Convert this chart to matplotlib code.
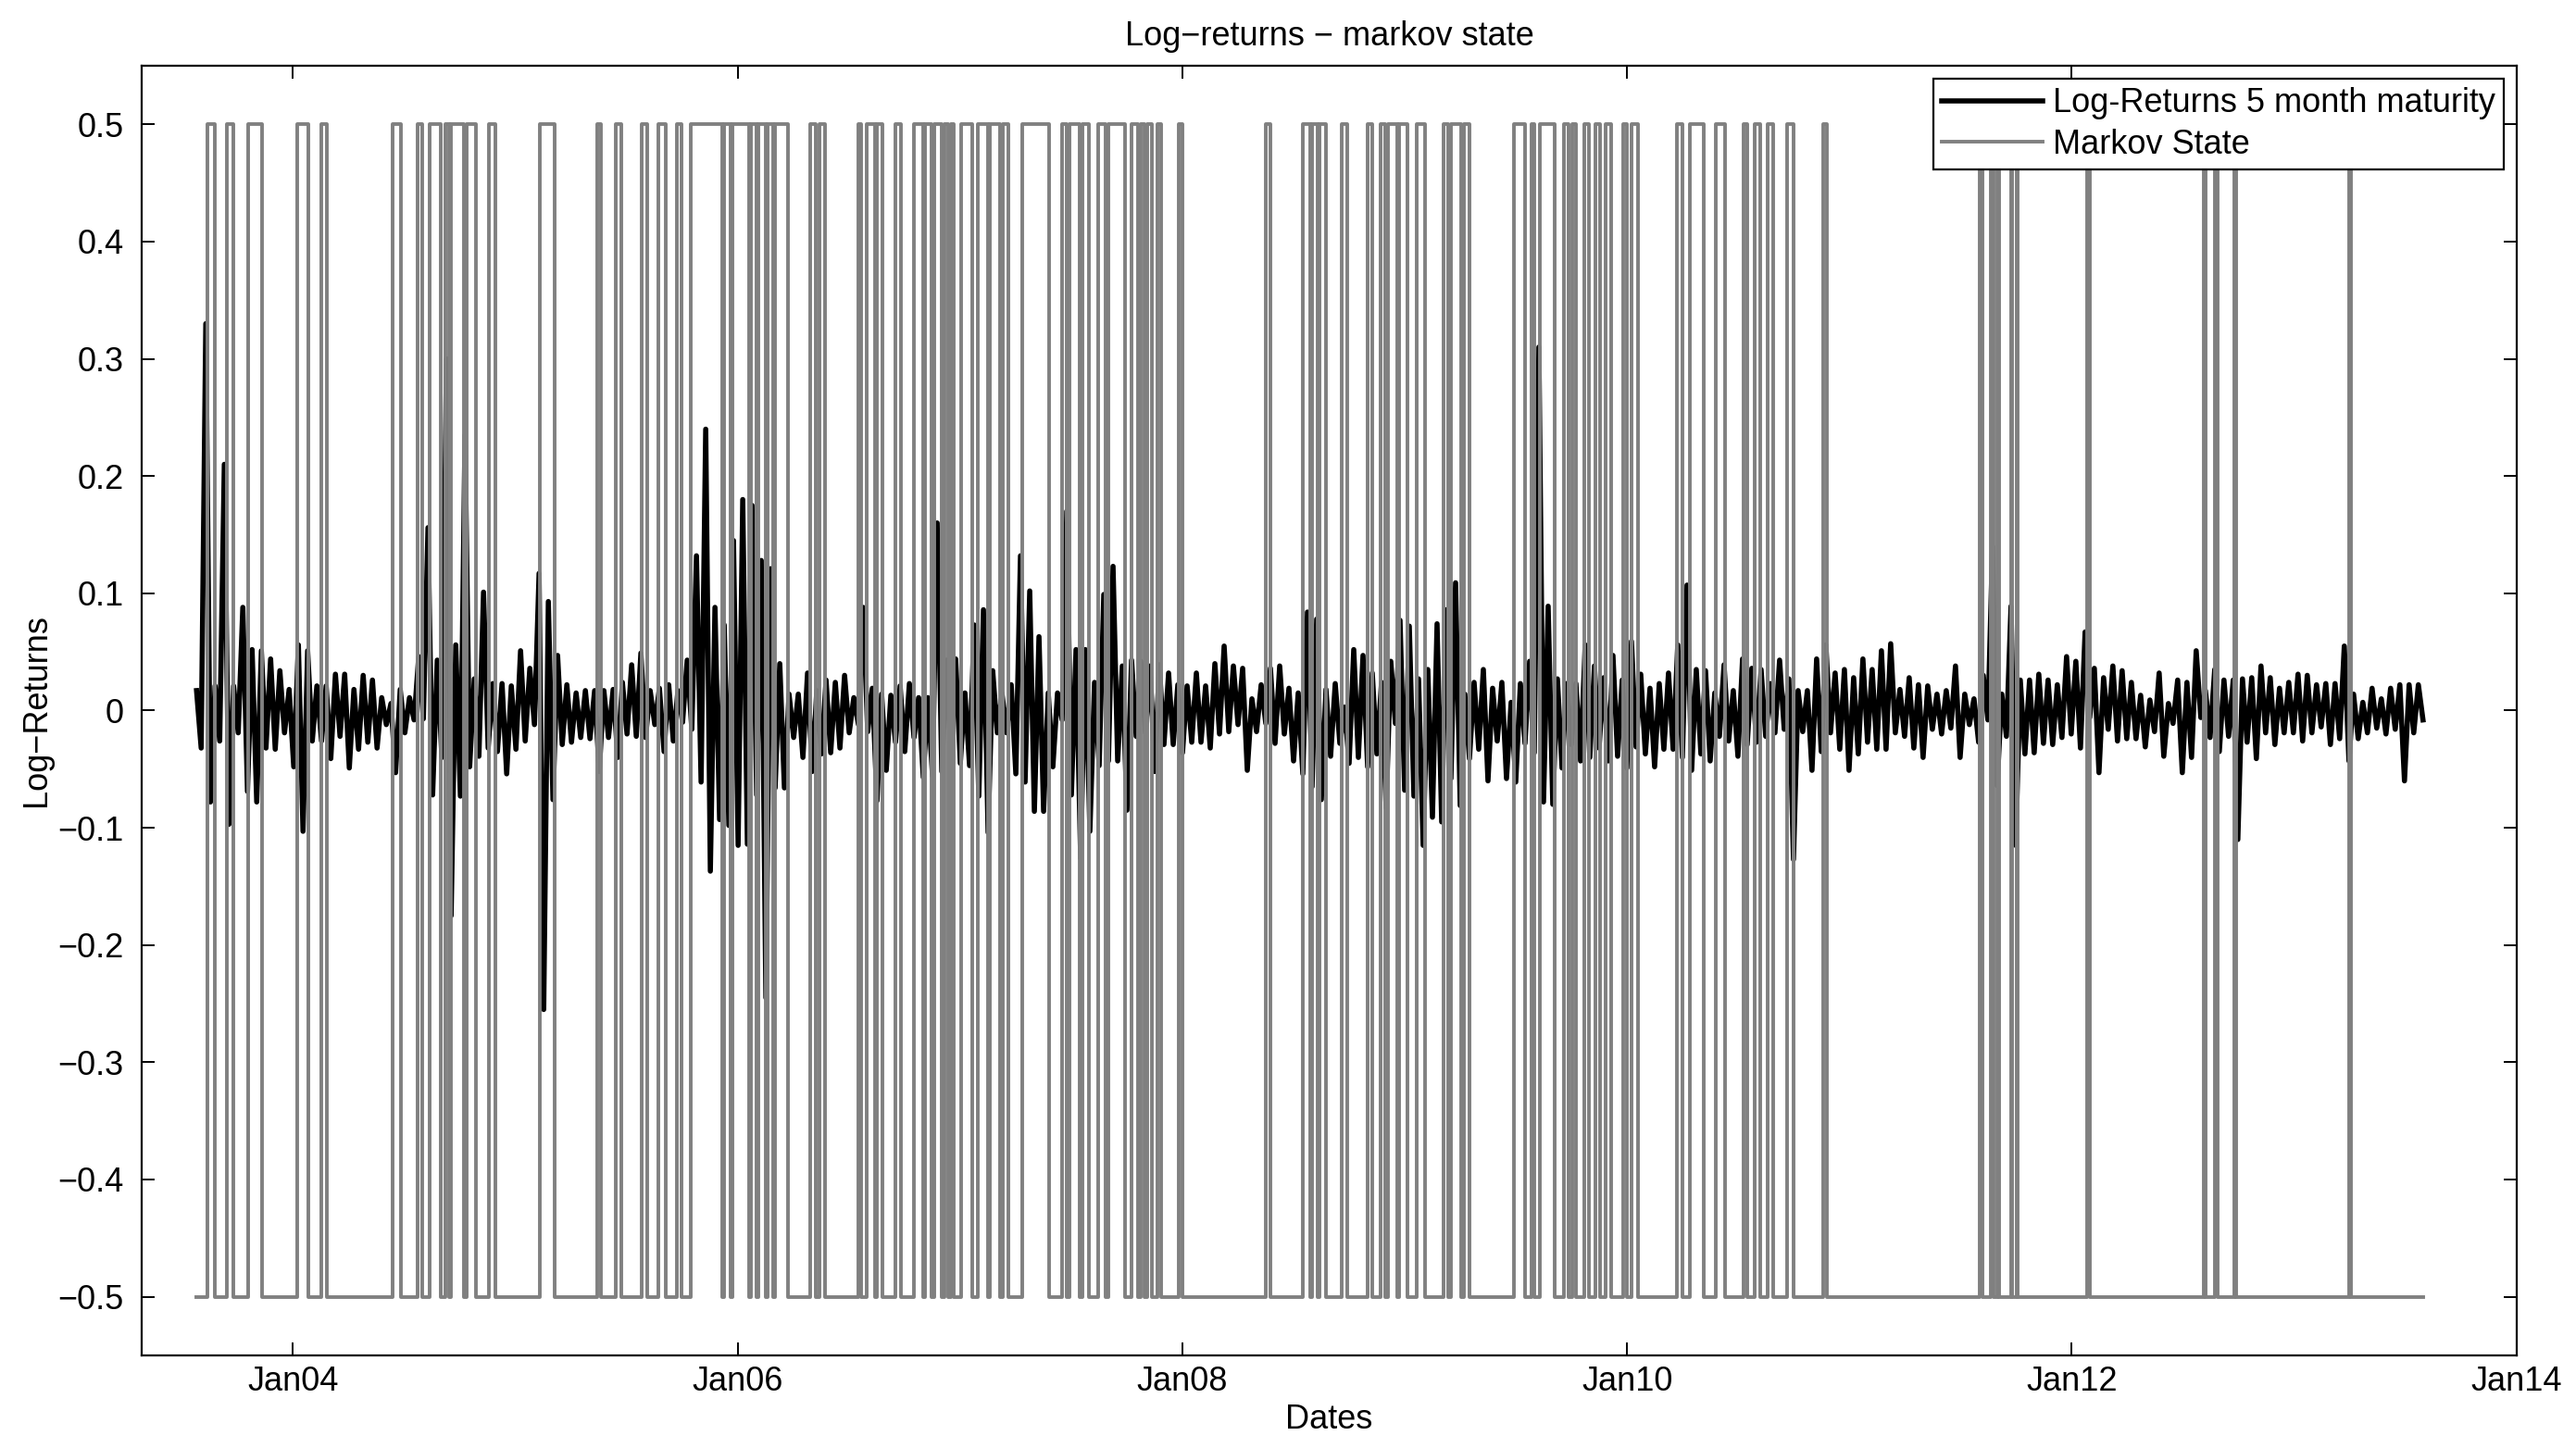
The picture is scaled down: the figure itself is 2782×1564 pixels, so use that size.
import numpy as np
import pandas as pd
import matplotlib
matplotlib.use("Agg")
import matplotlib.pyplot as plt
import matplotlib.dates as mdates
from datetime import datetime, timedelta

plt.rcParams['font.family'] = ['Liberation Sans', 'DejaVu Sans']

# data span (first / last observation)
first_day = "2003-07-27"
last_day = "2013-07-31"

# markov state: decimal years where state jumps up to 0.5 and back down to -0.5
state_up = [2003.614, 2003.705, 2003.797, 2004.022, 2004.130, 2004.450, 2004.563, 2004.617,
            2004.688, 2004.713, 2004.784, 2004.883, 2005.108, 2005.366, 2005.450, 2005.566,
            2005.641, 2005.724, 2005.787, 2005.937, 2005.974, 2006.058, 2006.091, 2006.133,
            2006.166, 2006.325, 2006.366, 2006.541, 2006.578, 2006.624, 2006.707, 2006.794,
            2006.840, 2006.882, 2006.928, 2006.957, 2007.007, 2007.082, 2007.136, 2007.194,
            2007.281, 2007.460, 2007.493, 2007.552, 2007.623, 2007.669, 2007.773, 2007.814,
            2007.843, 2007.889, 2007.985, 2008.376, 2008.543, 2008.585, 2008.618, 2008.718,
            2008.835, 2008.893, 2008.926, 2008.976, 2009.051, 2009.172, 2009.205, 2009.263,
            2009.488, 2009.567, 2009.605, 2009.713, 2009.754, 2009.808, 2009.855, 2009.900,
            2009.979, 2010.021, 2010.225, 2010.283, 2010.400, 2010.525, 2010.575, 2010.633,
            2010.720, 2010.882, 2011.587, 2011.637, 2011.666, 2011.725, 2011.750, 2012.070,
            2012.595, 2012.645, 2012.733, 2013.245]
state_down = [2003.647, 2003.733, 2003.863, 2004.072, 2004.155, 2004.488, 2004.583, 2004.667,
              2004.704, 2004.771, 2004.822, 2004.912, 2005.175, 2005.383, 2005.475, 2005.591,
              2005.674, 2005.745, 2005.929, 2005.966, 2006.049, 2006.083, 2006.124, 2006.158,
              2006.224, 2006.350, 2006.391, 2006.553, 2006.616, 2006.649, 2006.732, 2006.832,
              2006.873, 2006.919, 2006.948, 2006.973, 2007.057, 2007.124, 2007.182, 2007.219,
              2007.402, 2007.481, 2007.539, 2007.581, 2007.656, 2007.744, 2007.802, 2007.831,
              2007.864, 2007.906, 2008.002, 2008.397, 2008.576, 2008.610, 2008.647, 2008.743,
              2008.855, 2008.913, 2008.967, 2009.009, 2009.088, 2009.193, 2009.251, 2009.288,
              2009.538, 2009.580, 2009.671, 2009.734, 2009.767, 2009.829, 2009.876, 2009.925,
              2010.000, 2010.050, 2010.250, 2010.345, 2010.438, 2010.541, 2010.596, 2010.658,
              2010.749, 2010.899, 2011.599, 2011.649, 2011.675, 2011.733, 2011.758, 2012.083,
              2012.603, 2012.657, 2012.741, 2013.253]

# log-returns, read as (high, low) per half-month window
ret_hi = [0.017, 0.33, 0.021, 0.21, 0.021, 0.088, 0.052, 0.051, 0.044, 0.034, 0.018, 0.056,
          0.051, 0.021, 0.021, 0.031, 0.031, 0.018, 0.030, 0.026, 0.011, 0.006, 0.018, 0.011,
          0.046, 0.156, 0.043, 0.30, 0.056, 0.235, 0.027, 0.101, 0.023, 0.023, 0.021, 0.051,
          0.036, 0.117, 0.093, 0.047, 0.022, 0.015, 0.017, 0.017, 0.017, 0.018, 0.024, 0.039,
          0.049, 0.017, 0.019, 0.022, 0.017, 0.043, 0.132, 0.24, 0.088, 0.073, 0.145, 0.18,
          0.175, 0.128, 0.121, 0.040, 0.014, 0.014, 0.032, 0.017, 0.026, 0.024, 0.030, 0.011,
          0.088, 0.019, 0.014, 0.013, 0.021, 0.023, 0.011, 0.011, 0.16, 0.043, 0.044, 0.015,
          0.073, 0.086, 0.034, 0.015, 0.022, 0.132, 0.102, 0.063, 0.015, 0.015, 0.17, 0.052,
          0.052,
          0.024, 0.099, 0.123, 0.038, 0.043, 0.042, 0.038, 0.039, 0.032, 0.022, 0.021, 0.032,
          0.021, 0.040, 0.055, 0.038, 0.036, 0.010, 0.022, 0.036, 0.038, 0.019, 0.015, 0.084,
          0.078, 0.018, 0.023, 0.003, 0.052, 0.047, 0.032, 0.024, 0.042, 0.077, 0.072, 0.027,
          0.035, 0.074, 0.086, 0.109, 0.014, 0.024, 0.035, 0.019, 0.024, 0.007, 0.023, 0.042,
          0.31,
          0.089, 0.027, 0.023, 0.023, 0.056, 0.038, 0.028, 0.047, 0.026, 0.059, 0.031, 0.019,
          0.023, 0.032, 0.056, 0.107, 0.035, 0.034, 0.015, 0.039, 0.017, 0.044, 0.036, 0.035,
          0.023, 0.043, 0.027, 0.017, 0.017, 0.044, 0.056, 0.032, 0.035, 0.028, 0.044, 0.035,
          0.051, 0.057, 0.018, 0.028, 0.022, 0.021, 0.014, 0.017, 0.038, 0.014, 0.010, 0.030,
          0.14,
          0.014, 0.089, 0.026, 0.026, 0.031, 0.026, 0.022, 0.046, 0.042, 0.067, 0.036, 0.028,
          0.038, 0.034, 0.024, 0.013, 0.009, 0.032, 0.006, 0.026, 0.024, 0.051, 0.017, 0.035,
          0.026, 0.026, 0.027, 0.028, 0.038, 0.028, 0.019, 0.024, 0.031, 0.030, 0.022, 0.023,
          0.023, 0.055, 0.014, 0.007, 0.019, 0.010, 0.019, 0.022, 0.022, 0.022]
ret_lo = [-0.032, -0.078, -0.026, -0.097, -0.019, -0.069, -0.078, -0.032, -0.033, -0.019, -0.048, -0.103,
          -0.026, -0.026, -0.041, -0.022, -0.049, -0.033, -0.027, -0.032, -0.012, -0.053, -0.019, -0.008,
          -0.007, -0.072, -0.040, -0.175, -0.073, -0.048, -0.039, -0.032, -0.035, -0.054, -0.033, -0.026,
          -0.012, -0.255, -0.076, -0.029, -0.027, -0.023, -0.024, -0.052, -0.023, -0.040, -0.020, -0.022,
          -0.023, -0.012, -0.035, -0.026, -0.010, -0.016, -0.061, -0.137, -0.093, -0.098, -0.115, -0.114,
          -0.072, -0.245, -0.066, -0.066, -0.023, -0.040, -0.052, -0.037, -0.036, -0.032, -0.019, -0.012,
          -0.018, -0.077, -0.051, -0.027, -0.035, -0.023, -0.057, -0.056, -0.052, -0.040, -0.045, -0.047,
          -0.073, -0.104, -0.019, -0.019, -0.054, -0.061, -0.086, -0.086, -0.048, -0.008, -0.072, -0.126,
          -0.103,
          -0.047, -0.043, -0.043, -0.085, -0.022, -0.019, -0.052, -0.029, -0.029, -0.036, -0.027, -0.027,
          -0.032, -0.020, -0.018, -0.012, -0.051, -0.018, -0.011, -0.028, -0.020, -0.043, -0.054, -0.065,
          -0.076, -0.039, -0.028, -0.045, -0.040, -0.048, -0.037, -0.083, -0.011, -0.068, -0.073, -0.115,
          -0.091, -0.095, -0.058, -0.081, -0.041, -0.033, -0.060, -0.026, -0.058, -0.061, -0.028, -0.036,
          -0.078,
          -0.080, -0.049, -0.029, -0.043, -0.040, -0.032, -0.043, -0.039, -0.049, -0.031, -0.037, -0.048,
          -0.033, -0.033, -0.040, -0.051, -0.037, -0.043, -0.022, -0.026, -0.039, -0.029, -0.027, -0.022,
          -0.019, -0.016, -0.127, -0.018, -0.051, -0.035, -0.019, -0.033, -0.051, -0.037, -0.027, -0.033,
          -0.033, -0.019, -0.022, -0.032, -0.040, -0.016, -0.020, -0.015, -0.040, -0.012, -0.027, -0.008,
          -0.064,
          -0.022, -0.115, -0.037, -0.036, -0.028, -0.029, -0.023, -0.020, -0.032, -0.006, -0.053, -0.016,
          -0.026, -0.024, -0.024, -0.031, -0.018, -0.039, -0.011, -0.053, -0.040, -0.006, -0.023, -0.035,
          -0.022, -0.110, -0.027, -0.041, -0.019, -0.029, -0.019, -0.019, -0.026, -0.019, -0.014, -0.029,
          -0.024, -0.043, -0.024, -0.019, -0.015, -0.020, -0.016, -0.060, -0.019, -0.008]

x_ticks = ["2004-01-01", "2006-01-01", "2008-01-01", "2010-01-01", "2012-01-01", "2014-01-01"]
y_ticks = [-0.5, -0.4, -0.3, -0.2, -0.1, 0, 0.1, 0.2, 0.3, 0.4, 0.5]


def year_to_date(y):
    yr = int(y)
    return datetime(yr, 1, 1) + timedelta(days=(y - yr) * 365.25)


ret_dates = pd.date_range(first_day, last_day, periods=2 * len(ret_hi))
returns = np.column_stack([ret_hi, ret_lo]).ravel()

state_t = [pd.Timestamp(first_day)]
state_v = [-0.5]
for u, d in zip(state_up, state_down):
    state_t += [year_to_date(u), year_to_date(d)]
    state_v += [0.5, -0.5]
state_t.append(pd.Timestamp(last_day))
state_v.append(-0.5)

fig = plt.figure(figsize=(13.91, 7.82), dpi=200)
ax = fig.add_axes([0.055, 0.064, 0.922, 0.8906])

ax.plot(ret_dates, returns, color="black", lw=2.0, label="Log-Returns 5 month maturity")
ax.step(state_t, state_v, where="post", color="#808080", lw=1.4, label="Markov State")

ax.set_xlim(year_to_date(2003.32), pd.Timestamp("2014-01-01"))
ax.set_ylim(-0.55, 0.55)
ax.set_xticks([pd.Timestamp(t) for t in x_ticks])
ax.xaxis.set_major_formatter(mdates.DateFormatter("%b%y"))
ax.set_yticks(y_ticks)
ax.set_yticklabels([f"{v:g}".replace("-", "\u2212") for v in y_ticks])

ax.tick_params(direction="in", length=5, width=0.7, top=True, right=True, labelsize=13)
ax.tick_params(axis="y", pad=7)
ax.tick_params(axis="x", pad=4)
for s in ax.spines.values():
    s.set_linewidth(0.8)

ax.set_title("Log\u2212returns \u2212 markov state", fontsize=13, pad=8)
ax.set_xlabel("Dates", fontsize=13, labelpad=2)
ax.set_ylabel("Log\u2212Returns", fontsize=13, labelpad=2)

leg = ax.legend(loc="upper right", fontsize=13, handlelength=3.0, handletextpad=0.3,
                borderaxespad=0.4, fancybox=False, framealpha=1, edgecolor="black",
                borderpad=0.25, labelspacing=0.25)
leg.get_frame().set_linewidth(0.8)

fig.savefig("out.png", dpi=200)
